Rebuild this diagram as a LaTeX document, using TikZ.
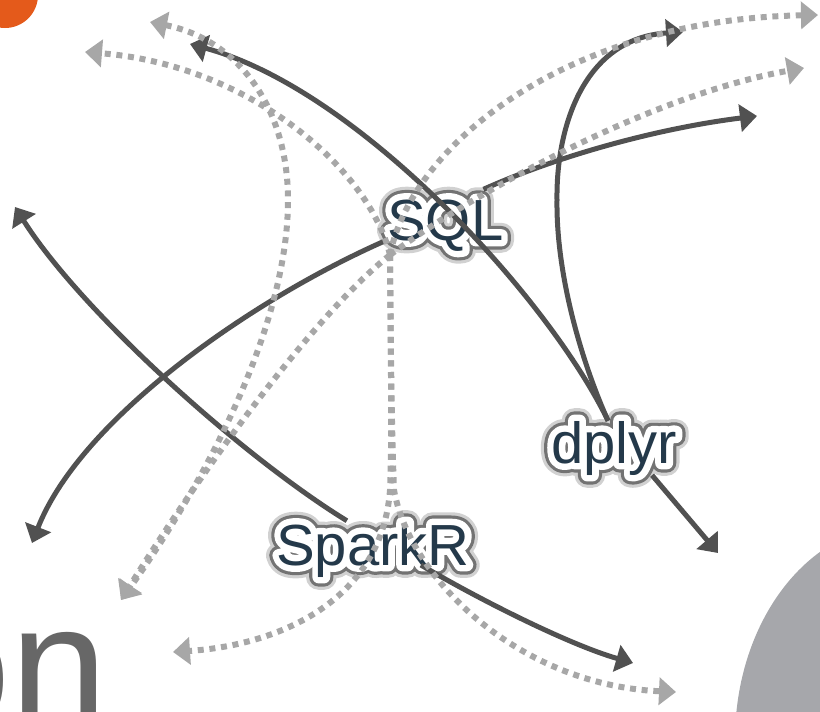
\documentclass[tikz,border=0pt]{standalone}
\usepackage{fontspec}
\setmainfont{Liberation Sans}
\newfontfamily\haloC[FakeBold=44]{Liberation Sans}
\newfontfamily\haloB[FakeBold=33]{Liberation Sans}
\newfontfamily\haloA[FakeBold=22]{Liberation Sans}
\usetikzlibrary{arrows.meta}
\tikzset{>={Triangle[width=27pt,length=17pt]}}
\definecolor{darkline}{HTML}{515151}
\definecolor{lightline}{HTML}{A7A7A7}
\definecolor{slate}{HTML}{24394A}
\definecolor{sparkorange}{HTML}{E45A1B}
\definecolor{blobgrey}{HTML}{A6A7AB}
\definecolor{wordgrey}{HTML}{676767}
\newcommand{\GLOW}[1]{%
  \rlap{\haloC\fontsize{58}{60}\selectfont\color{black!18}#1}%
  \rlap{\haloB\fontsize{58}{60}\selectfont\color{black!55}#1}%
  \rlap{\haloA\fontsize{58}{60}\selectfont\color{white}#1}%
  #1}

\begin{document}
\begin{tikzpicture}[x=1pt,y=-1pt,
  solid arrow/.style={->, line width=5pt, draw=darkline},
  dot arrow/.style={->, line width=6pt, draw=lightline,
    dash pattern=on 6pt off 5.7pt},
  tool/.style={inner sep=0pt, anchor=base west, text=slate, line join=round,
    font=\fontsize{58}{60}\selectfont}]

  \useasboundingbox (0,0) rectangle (820,712); %% positioning
  \clip (0,0) rectangle (820,712);

  %% logo bits
  \fill[sparkorange] (5,-5) circle[radius=33pt];
  \fill[blobgrey] (900,740) ellipse[x radius=165pt, y radius=215pt];
  \node[inner sep=0pt, anchor=base west, text=wordgrey,
    font=\fontsize{175}{175}\selectfont] (word) at (-87,726) {on};

  \node[tool] (sql) at (387,240) {\GLOW{SQL}};
  \node[tool] (dplyr) at (551,463) {\GLOW{dplyr}};
  \node[tool] (sparkr) at (276,565) {\GLOW{SparkR}};

  \coordinate (hub) at ([xshift=3pt,yshift=-15pt]sql.base west);

  %% free ends
  \coordinate (s1) at (190,44);
  \coordinate (s2) at (683,32);
  \coordinate (s3) at (32,543);
  \coordinate (s4) at (757,116);
  \coordinate (s5) at (15,207);
  \coordinate (s6) at (633,663);
  \coordinate (s7) at (718,553);
  \coordinate (d1) at (85,52);
  \coordinate (d2) at (818,15);
  \coordinate (d3) at (804,68);
  \coordinate (d4) at (121,600);
  \coordinate (d5) at (173,652);
  \coordinate (d6) at (676,692);
  \coordinate (d7) at (150,22);

  \draw[solid arrow] ([xshift=-6pt]dplyr.north)
    .. controls (550,300) and (360,90) .. (s1);
  \draw[solid arrow] ([xshift=-6pt]dplyr.north)
    .. controls (585,370) and (556,280) .. (557,200)
    .. controls (556,125) and (585,38) .. (s2);
  \draw[solid arrow] (sql.base west) .. controls (250,300) and (80,420) .. (s3);
  \draw[solid arrow] ([xshift=-20pt,yshift=10pt]sql.north east)
    .. controls (560,155) and (660,128) .. (s4);
  \draw[solid arrow] ([xshift=-26pt,yshift=2pt]sparkr.north)
    .. controls (240,455) and (80,310) .. (s5);
  \draw[solid arrow] ([xshift=48pt]sparkr.base) .. controls (480,600) and (570,645) .. (s6);
  \draw[solid arrow] ([xshift=38pt]dplyr.south) -- (s7);

  \draw[dot arrow] (hub) .. controls (370,170) and (250,65) .. (d1);
  \draw[dot arrow] (hub) .. controls (410,150) and (560,20) .. (d2);
  \draw[dot arrow] (hub) .. controls (470,195) and (650,95) .. (d3);
  \draw[dot arrow] (hub) .. controls (320,310) and (215,450) .. (d4);
  \draw[dot arrow] (hub) .. controls (391,380) and (392,440) .. (390,490)
    .. controls (382,600) and (280,645) .. (d5);
  \draw[dot arrow] (hub) .. controls (391,380) and (392,440) .. (394,490)
    .. controls (410,580) and (520,685) .. (d6);
  \draw[dot arrow, <->] (d7) .. controls (240,40) and (288,110) .. (288,200)
    .. controls (288,330) and (200,490) .. (d4);

\end{tikzpicture}
\end{document}
